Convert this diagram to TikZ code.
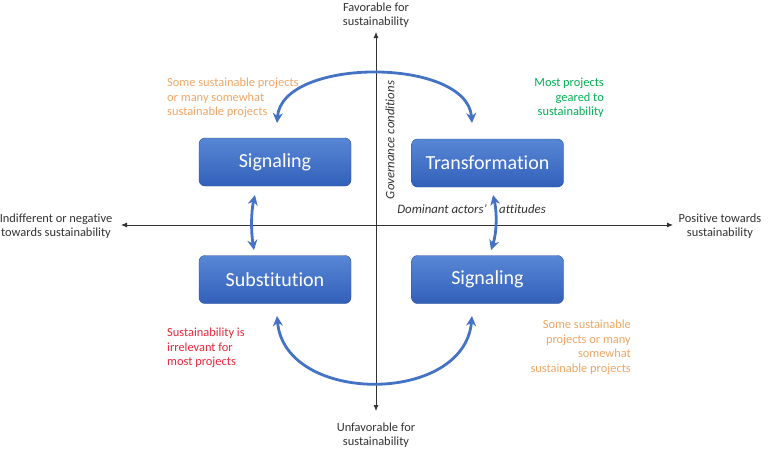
\documentclass[tikz,border=0pt]{standalone}
\usepackage{fontspec}
\setmainfont[Ligatures=NoCommon]{Carlito}
\usetikzlibrary{arrows.meta,shapes.misc}
\definecolor{boxtop}{RGB}{88,135,214}
\definecolor{boxbot}{RGB}{50,96,186}
\definecolor{arcblue}{RGB}{68,114,196}
\definecolor{txtorange}{RGB}{240,165,100}
\definecolor{txtgreen}{RGB}{0,176,80}
\definecolor{txtred}{RGB}{228,40,55}
\definecolor{txtgray}{RGB}{50,50,50}
\tikzset{
  quad/.style={rounded corners=6pt, minimum width=152pt, minimum height=48pt,
    top color=boxtop, bottom color=boxbot, draw=boxbot!80!black, line width=0.4pt,
    text=white, font=\fontsize{20}{24}\selectfont, inner sep=0pt},
  axis/.style={draw=txtgray, line width=0.8pt, -{Latex[length=6pt,width=5pt]}},
  flow/.style={draw=arcblue, line width=2.8pt, {Stealth[length=10pt,width=10pt]}-{Stealth[length=10pt,width=10pt]}},
  axlabel/.style={text=txtgray, font=\fontsize{12.4}{14}\selectfont, align=center, inner sep=0pt},
  note/.style={font=\fontsize{12.4}{14.8}\selectfont, inner sep=0pt},
  it/.style={text=txtgray, font=\fontsize{12.8}{14}\selectfont\itshape, inner sep=0pt}
}
\begin{document}
\begin{tikzpicture}[x=1pt,y=-1pt]
\useasboundingbox (0,0) rectangle (768,450);
% axes
\coordinate (c) at (376,225);
\coordinate (top) at (376,32);
\coordinate (bot) at (376,411);
\coordinate (left) at (121,225);
\coordinate (right) at (673,225);
\draw[axis] (c) -- (top);
\draw[axis] (c) -- (bot);
\draw[axis] (c) -- (left);
\draw[axis] (c) -- (right);
% axis labels
\node[axlabel] (fav) at (376,15) {Favorable for\\sustainability};
\node[axlabel] (unfav) at (376,435) {Unfavorable for\\sustainability};
\node[axlabel] (indiff) at (56,226) {Indifferent or negative\\towards sustainability};
\node[axlabel] (pos) at (720,226) {Positive towards\\sustainability};
% boxes
\node[quad] (sig1) at (275,162) {Signaling};
\node[quad] (trans) at (487.5,163) {Transformation};
\node[quad] (subst) at (275,279.5) {Substitution};
\node[quad] (sig2) at (487.5,279.5) {Signaling};
% arrows
\coordinate (a1) at (277,123);
\coordinate (a2) at (472,123);
\coordinate (b1) at (277,316);
\coordinate (b2) at (472,316);
\draw[flow] (a1) .. controls (282,57) and (467,57) .. (a2);
\draw[flow] (b1) .. controls (285,405) and (464,405) .. (b2);
\coordinate (l1) at (255,195);
\coordinate (l2) at (254,250);
\coordinate (r1) at (493,195);
\coordinate (r2) at (491,250);
\draw[flow] (l1) .. controls (251,212) and (251,232) .. (l2);
\draw[flow] (r1) .. controls (497,212) and (497,232) .. (r2);
% italic labels
\node[it, rotate=90] (gov) at (390,140) {Governance conditions};
\node[it, anchor=east] (dom) at (487,209) {Dominant actors’};
\node[it, anchor=west] (att) at (499,209) {attitudes};
% notes
\node[note, text=txtorange, align=left, anchor=north west] (n1) at (167,77.5) {Some sustainable projects\\or many somewhat\\sustainable projects};
\node[note, text=txtgreen, align=right, anchor=north east] (n2) at (604,77.5) {Most projects\\geared to\\sustainability};
\node[note, text=txtred, align=left, anchor=north west] (n3) at (167,327.5) {Sustainability is\\irrelevant for\\most projects};
\node[note, text=txtorange, align=right, anchor=north east] (n4) at (631,319.5) {Some sustainable\\projects or many\\somewhat\\sustainable projects};
\end{tikzpicture}
\end{document}
